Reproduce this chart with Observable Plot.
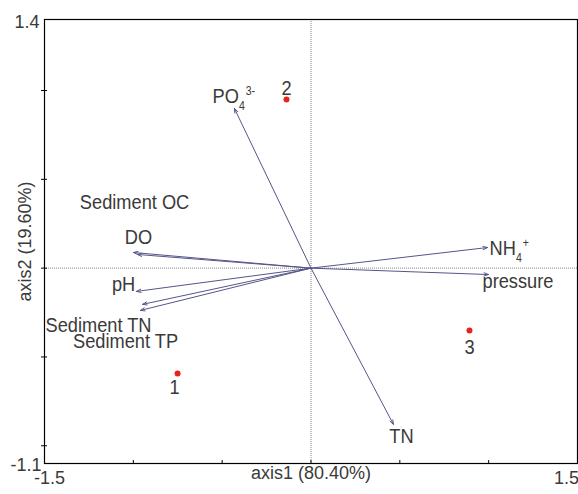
<!DOCTYPE html>
<html>
<head>
<meta charset="utf-8">
<script src="https://cdn.jsdelivr.net/npm/d3@7"></script>
<script src="https://cdn.jsdelivr.net/npm/@observablehq/plot@0.6"></script>
<style>
  html, body { margin: 0; padding: 0; background: #fff; }
  #chart svg { display: block; }
</style>
</head>
<body>
<div id="chart"></div>
<script>
// ---- data ----
const variables = ["PO4 3-", "Sediment OC", "DO", "pH", "Sediment TN", "Sediment TP", "NH4+", "pressure", "TN"];
const varX = [-0.431, -0.977, -0.999, -0.982, -0.948, -0.960, 0.993, 0.999, 0.464];
const varY = [0.899, 0.077, 0.088, -0.131, -0.204, -0.238, 0.116, -0.036, -0.880];
// label anchor points (data units)
const varLabelX = [-0.554, -0.993, -0.971, -1.055, -1.196, -1.044, 1.005, 1.165, 0.509];
const varLabelY = [0.966, 0.370, 0.173, -0.092, -0.320, -0.410, 0.110, -0.075, -0.948];
const startAnchored = ["PO4 3-", "NH4+"];

const sites = ["1", "2", "3"];
const siteX = [-0.751, -0.138, 0.892];
const siteY = [-0.593, 0.950, -0.351];
const siteLabelX = [-0.768, -0.138, 0.892];
const siteLabelY = [-0.673, 1.011, -0.447];

const xDomain = [-1.5, 1.5];
const yDomain = [-1.1, 1.4];
const xTicks = [-1, -0.5, 0, 0.5, 1];
const yTicks = [-1, -0.5, 0, 0.5, 1];
const xTickLabels = ["-1.5", "1.5"];
const yTickLabels = ["1.4", "-1.1"];
const xTitle = "axis1 (80.40%)";
const yTitle = "axis2 (19.60%)";

// ---- tables ----
const vars = variables.map((name, i) => ({
  name, x: varX[i], y: varY[i], lx: varLabelX[i], ly: varLabelY[i],
  start: startAnchored.includes(name)
}));
const pts = sites.map((name, i) => ({name, x: siteX[i], y: siteY[i], lx: siteLabelX[i], ly: siteLabelY[i]}));

const textColor = "#3a3a3a";
const labelFont = "Liberation Sans, Arial, sans-serif";

const chart = Plot.plot({
  width: 578,
  height: 494,
  marginLeft: 44,
  marginRight: 1,
  marginTop: 19,
  marginBottom: 31,
  style: {fontFamily: "Liberation Sans, Arial, sans-serif", color: textColor, background: "#fff"},
  x: {domain: xDomain, axis: null},
  y: {domain: yDomain, axis: null},
  marks: [
    Plot.ruleY([0], {stroke: "#8a8a8a", strokeDasharray: "1,1", strokeWidth: 1}),
    Plot.ruleX([0], {stroke: "#8a8a8a", strokeDasharray: "1,1", strokeWidth: 1}),
    Plot.frame({stroke: "#000", strokeWidth: 1.2}),
    // tick marks crossing the frame
    Plot.ruleX(xTicks, {x: d => d, y1: yDomain[0], y2: yDomain[0], insetTop: -3, insetBottom: -1, stroke: "#000"}),
    Plot.ruleY(yTicks, {y: d => d, x1: xDomain[0], x2: xDomain[0], insetLeft: -3, insetRight: -3, stroke: "#000"}),
    // tick labels at the ends
    Plot.text([xTickLabels[0]], {x: xDomain[0], y: yDomain[0], text: d => d, dx: 5, dy: 15, fontSize: 18, fill: textColor}),
    Plot.text([xTickLabels[1]], {x: xDomain[1], y: yDomain[0], text: d => d, dx: -11, dy: 15, fontSize: 18, fill: textColor}),
    Plot.text([yTickLabels[0]], {x: xDomain[0], y: yDomain[1], text: d => d, textAnchor: "end", dx: -5, dy: 3, fontSize: 18, fill: textColor}),
    Plot.text([yTickLabels[1]], {x: xDomain[0], y: yDomain[0], text: d => d, textAnchor: "end", dx: -3, dy: 2, fontSize: 18, fill: textColor}),
    // axis titles
    Plot.text([xTitle], {frameAnchor: "bottom", text: d => d, dy: 15, fontSize: 18, fill: textColor}),
    Plot.text([yTitle], {frameAnchor: "left", textAnchor: "middle", text: d => d, dx: -19, rotate: -90, fontSize: 18, fill: textColor}),
    // arrows
    Plot.arrow(vars, {x1: 0, y1: 0, x2: "x", y2: "y", stroke: "#55558a", strokeWidth: 1, headLength: 7, headAngle: 40}),
    // variable labels
    Plot.text(vars.filter(d => !d.start), {x: "lx", y: "ly", text: "name", fontSize: 19, fontFamily: labelFont, fill: textColor}),
    Plot.text(vars.filter(d => d.start), {x: "lx", y: "ly", text: "name", textAnchor: "start", fontSize: 19, fontFamily: labelFont, fill: textColor}),
    // sites
    Plot.dot(pts, {x: "x", y: "y", r: 3, fill: "#e8231a", stroke: null}),
    Plot.text(pts, {x: "lx", y: "ly", text: "name", fontSize: 19, fontFamily: labelFont, fill: textColor})
  ]
});

const labelNames = new Set([...variables, ...sites]);
d3.select(chart).selectAll("text").each(function() {
  const t = this.textContent;
  if (!labelNames.has(t)) return;
  const el = d3.select(this);
  // slightly condensed, taller lettering as in the reference
  const tr = el.attr("transform") || "";
  el.attr("transform", tr + " scale(0.96,1.08)");
  let parts = null;
  if (t === "PO4 3-") parts = ["PO", "4", "3-"];
  if (t === "NH4+") parts = ["NH", "4", "+"];
  if (!parts) return;
  el.text(null);
  el.append("tspan").text(parts[0]);
  el.append("tspan").attr("font-size", 11).attr("dy", 6).text(parts[1]);
  el.append("tspan").attr("font-size", 11).attr("dy", -14).attr("dx", 1).text(parts[2]);
});

document.getElementById("chart").appendChild(chart);
</script>
</body>
</html>
